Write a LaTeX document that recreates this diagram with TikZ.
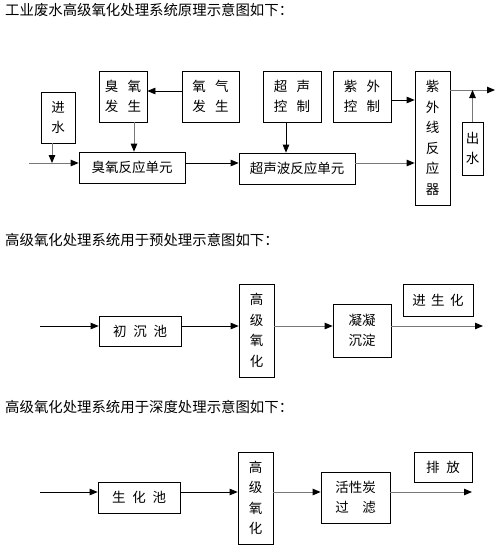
\documentclass[tikz,border=0pt]{standalone}
\usepackage{fontspec}
\usepackage{tikz}
\usepackage{xcolor}
\usetikzlibrary{positioning, arrows.meta}
\newfontfamily\cjk{Noto Sans CJK SC}
\definecolor{flowgray}{RGB}{120, 120, 120}
\tikzset{
    unitbox/.style={rectangle, draw=black, line width=0.7pt, inner sep=0pt, align=center, font=\cjk\fontsize{13.5}{20.5}\selectfont},
    titletext/.style={anchor=west, inner sep=0pt, font=\cjk\fontsize{14.4}{16}\selectfont},
    flow/.style={line width=0.7pt, -{Triangle[length=8pt, width=6.5pt, color=black]}},
    grayflow/.style={flow, draw=flowgray, line width=1pt}
}

\begin{document}
\begin{tikzpicture}[x=1pt, y=-1pt]
                    \useasboundingbox (0,0) rectangle (503,552);
                    % principle of the system
                    \node[titletext] (title1) at (5,10) {工业废水高级氧化处理系统原理示意图如下：};
                    \node[unitbox, minimum width=48pt, minimum height=51pt] (ozgen) at (123,96.5) {臭\hspace{0.7em}氧\\发\hspace{0.7em}生};
                    \node[unitbox, minimum width=57pt, minimum height=51pt] (oxgen) at (210.5,96.5) {氧\hspace{0.7em}气\\发\hspace{0.7em}生};
                    \node[unitbox, minimum width=58pt, minimum height=51pt] (usctl) at (292,96.5) {超\hspace{0.7em}声\\控\hspace{0.7em}制};
                    \node[unitbox, minimum width=58pt, minimum height=51pt] (uvctl) at (362,96.5) {紫\hspace{0.7em}外\\控\hspace{0.7em}制};
                    \node[unitbox, minimum width=35pt, minimum height=134pt] (uvreact) at (432.5,138) {紫\\外\\线\\反\\应\\器};
                    \node[unitbox, minimum width=34pt, minimum height=51pt] (inwater) at (58,117.5) {进\\水};
                    \node[unitbox, minimum width=21pt, minimum height=53pt] (outwater) at (472.5,148.5) {出\\水};
                    \node[unitbox, minimum width=106pt, minimum height=31pt] (ozreact) at (132,167.5) {臭氧反应单元};
                    \node[unitbox, minimum width=116pt, minimum height=31pt] (usreact) at (297,168.5) {超声波反应单元};
                    \coordinate (line1) at (0,163);
                    \coordinate (start1) at (29,163);
                    \coordinate (end1) at (495,90);

                    \draw[grayflow] (start1) -- (ozreact.west |- line1);
                    \draw[grayflow] (inwater.south -| 52,0) -- (52,163);
                    \draw[grayflow] (ozgen.south -| 134,0) -- (ozreact.north -| 134,0);
                    \draw[flow] (oxgen.west |- 0,91) -- (ozgen.east |- 0,91);
                    \draw[flow] (ozreact.east |- line1) -- (usreact.west |- line1);
                    \draw[flow] (usctl.south -| 286,0) -- (usreact.north -| 286,0);
                    \draw[grayflow] (usreact.east |- line1) -- (uvreact.west |- line1);
                    \draw[flow] (uvctl.east |- 0,100) -- (uvreact.west |- 0,100);
                    \draw[grayflow] (uvreact.east |- end1) -- (end1);
                    \draw[grayflow] (outwater.north) -- (outwater.north |- end1);

                    % pretreatment
                    \node[titletext] (title2) at (5,240) {高级氧化处理系统用于预处理示意图如下：};
                    \node[unitbox, minimum width=82pt, minimum height=30pt] (settle) at (140,331) {初\hspace{0.5em}沉\hspace{0.5em}池};
                    \node[unitbox, minimum width=35pt, minimum height=93pt] (aoppre) at (256.5,330.5) {高\\级\\氧\\化};
                    \node[unitbox, minimum width=58pt, minimum height=53pt] (coag) at (362,330.5) {凝凝\\沉淀};
                    \node[unitbox, minimum width=70pt, minimum height=32pt] (tobio) at (438,300) {进\hspace{0.4em}生\hspace{0.4em}化};
                    \coordinate (line2) at (0,326);
                    \coordinate (start2) at (40,326);
                    \coordinate (end2) at (483,326);

                    \draw[flow] (start2) -- (settle.west |- line2);
                    \draw[flow] (settle.east |- line2) -- (aoppre.west |- line2);
                    \draw[grayflow] (aoppre.east |- line2) -- (coag.west |- line2);
                    \draw[grayflow] (coag.east |- line2) -- (end2);

                    % advanced treatment
                    \node[titletext] (title3) at (5,407) {高级氧化处理系统用于深度处理示意图如下：};
                    \node[unitbox, minimum width=82pt, minimum height=31pt] (biotank) at (139,497.5) {生\hspace{0.5em}化\hspace{0.5em}池};
                    \node[unitbox, minimum width=35pt, minimum height=92pt] (aopdeep) at (255.5,498) {高\\级\\氧\\化};
                    \node[unitbox, minimum width=69pt, minimum height=51pt] (carbon) at (355.5,497.5) {活性炭\\过\hspace{1em}滤};
                    \node[unitbox, minimum width=58pt, minimum height=30pt] (discharge) at (443,467) {排\hspace{0.5em}放};
                    \coordinate (line3) at (0,492);
                    \coordinate (start3) at (40,492);
                    \coordinate (end3) at (472,492);

                    \draw[flow] (start3) -- (biotank.west |- line3);
                    \draw[flow] (biotank.east |- line3) -- (aopdeep.west |- line3);
                    \draw[grayflow] (aopdeep.east |- line3) -- (carbon.west |- line3);
                    \draw[grayflow] (carbon.east |- line3) -- (end3);
                \end{tikzpicture}
\end{document}
